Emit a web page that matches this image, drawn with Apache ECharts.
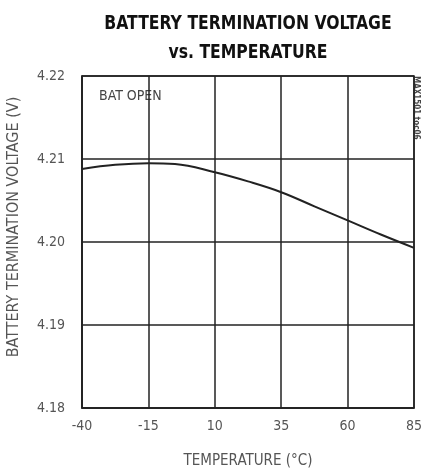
<!DOCTYPE html>
<html><head><meta charset="utf-8">
<script src="https://cdn.jsdelivr.net/npm/echarts@6/dist/echarts.min.js"></script>
<style>html,body{margin:0;padding:0;background:#fff}#c{width:430px;height:468px}</style>
</head><body><div id="c"></div>
<script>
var temps = [-40, -27.5, -15, -5, 10, 22.5, 35, 47.5, 60, 72.5, 85];
var voltage = [4.2088, 4.2093, 4.2095, 4.2094, 4.2084, 4.2073, 4.2060, 4.2043, 4.2026, 4.2009, 4.1993];
var xTicks = [-40, -15, 10, 35, 60, 85];
var yTicks = [4.18, 4.19, 4.20, 4.21, 4.22];
var titleLines = ['BATTERY TERMINATION VOLTAGE', 'vs. TEMPERATURE'];

var FONT = '"Liberation Sans Narrow", "DejaVu Sans Condensed", "Roboto Condensed", sans-serif';
var chart = echarts.init(document.getElementById('c'));
chart.setOption({
  animation: false,
  grid: {left: 82, right: 16, top: 76, bottom: 60, outerBoundsMode: 'none', containLabel: false, show: true, borderColor: '#222', borderWidth: 1.5},
  graphic: [
    {type: 'text', x: 248, y: 14, scaleX: 0.87, style: {text: titleLines[0], font: 'bold 20px ' + FONT, fill: '#111', textAlign: 'center', textVerticalAlign: 'top'}},
    {type: 'text', x: 248, y: 43, scaleX: 0.87, style: {text: titleLines[1], font: 'bold 20px ' + FONT, fill: '#111', textAlign: 'center', textVerticalAlign: 'top'}},
    {type: 'text', x: 99, y: 89, style: {text: 'BAT OPEN', font: '14px ' + FONT, fill: '#444'}},
    {type: 'text', x: 420, y: 76, rotation: -Math.PI/2, style: {text: 'MAX1501 toc06', font: 'bold 8px ' + FONT, fill: '#444', textAlign: 'left', textVerticalAlign: 'top'}}
  ],
  xAxis: {
    type: 'value', min: xTicks[0], max: xTicks[xTicks.length-1], interval: 25,
    name: 'TEMPERATURE (°C)', nameLocation: 'middle', nameGap: 46,
    nameTextStyle: {fontFamily: FONT, fontSize: 15, color: '#555'},
    axisLine: {show: true, onZero: false, lineStyle: {color: '#222', width: 1.5}},
    axisTick: {show: false},
    axisLabel: {fontFamily: FONT, fontSize: 14, color: '#555', margin: 11},
    splitLine: {show: true, lineStyle: {color: '#222', width: 1.5}}
  },
  yAxis: {
    type: 'value', min: yTicks[0], max: yTicks[yTicks.length-1], interval: 0.01,
    name: 'BATTERY TERMINATION VOLTAGE (V)', nameLocation: 'middle', nameGap: 60,
    nameTextStyle: {fontFamily: FONT, fontSize: 16, color: '#555', padding: [0, 0, 0, 30]},
    axisLine: {show: true, onZero: false, lineStyle: {color: '#222', width: 1.5}},
    axisTick: {show: false},
    axisLabel: {fontFamily: FONT, fontSize: 14, color: '#555', margin: 17, formatter: function(v){return v.toFixed(2);}},
    splitLine: {show: true, lineStyle: {color: '#222', width: 1.5}}
  },
  series: [{
    type: 'line', smooth: 0.4, symbol: 'none',
    data: temps.map(function(t, i){return [t, voltage[i]];}),
    lineStyle: {color: '#222', width: 2}
  }]
});
</script></body></html>
